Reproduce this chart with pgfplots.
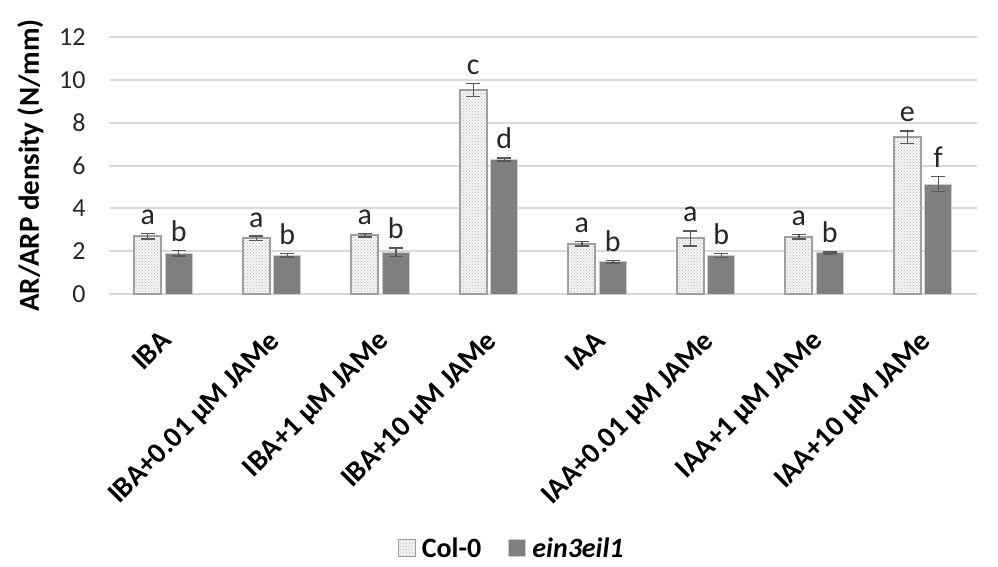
\documentclass[border=0pt]{standalone}
\usepackage{pgfplots}
\pgfplotsset{compat=1.18}
\usepackage{pgfplotstable}
\usetikzlibrary{patterns}
\usepackage{fontspec}
\setmainfont{Carlito}
\definecolor{darkbar}{HTML}{7F7F7F}
\definecolor{errc}{HTML}{595959}
\definecolor{gridc}{HTML}{D9D9D9}
\pgfplotstableread{
x y err lab
0 2.70 0.12 a
1 2.60 0.10 a
2 2.75 0.08 a
3 9.52 0.30 c
4 2.35 0.10 a
5 2.60 0.35 a
6 2.67 0.10 a
7 7.32 0.30 e
}\colzero
\pgfplotstableread{
x y err lab
0 1.90 0.12 b
1 1.80 0.08 b
2 1.95 0.20 b
3 6.28 0.08 d
4 1.50 0.06 b
5 1.80 0.10 b
6 1.92 0.05 b
7 5.13 0.35 f
}\einthree
\begin{document}
\begin{tikzpicture}[x=1pt,y=1pt]
\useasboundingbox (-109,-272) rectangle (889,294);
\begin{axis}[
  at={(0,0)}, anchor=south west,
  scale only axis, width=868pt, height=257pt,
  ybar, bar width=27pt,
  ymin=0, ymax=12, ytick={0,2,...,12},
  xmin=-0.5, xmax=7.5,
  xtick={0,...,7},
  xticklabels={IBA, IBA+0.01 µM JAMe, IBA+1 µM JAMe, IBA+10 µM JAMe, IAA, IAA+0.01 µM JAMe, IAA+1 µM JAMe, IAA+10 µM JAMe},
  xticklabel style={rotate=45, anchor=north east, font=\fontsize{29}{31}\selectfont\bfseries, inner sep=0pt, xshift=-27.6pt, yshift=-21.9pt},
  yticklabel style={font=\fontsize{26}{28}\selectfont, xshift=-20pt, text=black!85},
  /pgf/number format/assume math mode=true,
  ylabel={AR/ARP density (N/mm)},
  ylabel style={font=\fontsize{29}{31}\selectfont\bfseries, at={(axis description cs:-0.0905,0.5)}, anchor=center},
  axis line style={draw=none},
  major tick length=0,
  ymajorgrids, grid style={gridc, line width=2pt},
  legend style={at={(0.464,-0.99)}, anchor=center, draw=none, legend columns=2, font=\fontsize{28}{30}\selectfont\bfseries, /tikz/every even column/.append style={column sep=25pt}, /tikz/every odd column/.append style={column sep=4pt}},
  legend image code/.code={\draw[#1, line width=1pt] (0pt,-8pt) rectangle (17pt,9pt);},
  clip=false,
]
\addplot[bar shift=-15.5pt, draw=gray!75, line width=1.8pt, fill=gray!8, postaction={pattern=crosshatch dots, pattern color=gray!55},
  error bars/.cd, y dir=both, y explicit,
  error bar style={errc, line width=1.5pt},
  error mark options={rotate=90, mark size=7pt, line width=1.5pt, errc}]
  table[x=x, y=y, y error=err] {\colzero};
\addplot[bar shift=15.5pt, draw=gray!40, line width=0.8pt, fill=darkbar,
  error bars/.cd, y dir=both, y explicit,
  error bar style={errc, line width=1.5pt},
  error mark options={rotate=90, mark size=7pt, line width=1.5pt, errc}]
  table[x=x, y=y, y error=err] {\einthree};
\legend{Col-0, \textit{ein3eil1}}
\addplot[forget plot, bar shift=-15.5pt, draw=none, fill=none, bar width=0pt,
  nodes near coords, point meta=explicit symbolic,
  every node near coord/.append style={font=\fontsize{30}{32}\selectfont, black!85, anchor=base, inner sep=0pt, yshift=9pt}]
  table[x=x, y expr=\thisrow{y}+\thisrow{err}, meta=lab] {\colzero};
\addplot[forget plot, bar shift=15.5pt, draw=none, fill=none, bar width=0pt,
  nodes near coords, point meta=explicit symbolic,
  every node near coord/.append style={font=\fontsize{30}{32}\selectfont, black!85, anchor=base, inner sep=0pt, yshift=9pt}]
  table[x=x, y expr=\thisrow{y}+\thisrow{err}, meta=lab] {\einthree};
\end{axis}
\end{tikzpicture}
\end{document}
